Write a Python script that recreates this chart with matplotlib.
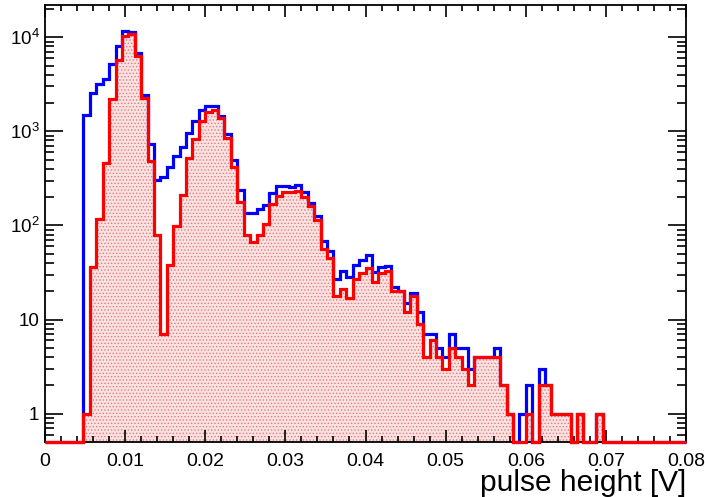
import numpy as np
import matplotlib
matplotlib.use("Agg")
import matplotlib.pyplot as plt
from matplotlib.ticker import FixedLocator, FixedFormatter, MultipleLocator, NullFormatter, LogLocator

plt.rcParams['font.family'] = ['Liberation Sans', 'DejaVu Sans']
plt.rcParams['mathtext.fontset'] = 'custom'
plt.rcParams['mathtext.rm'] = 'Liberation Sans'
plt.rcParams['hatch.linewidth'] = 0.6

# 100 bins from 0 to 0.08 V
bin_edges = np.linspace(0.0, 0.08, 101)

# counts per bin, blue histogram
blue_counts = [
    0, 0, 0, 0, 0, 0, 1490, 2540, 3160, 3570,
    5160, 8070, 11700, 11300, 6760, 2450, 730, 303, 325, 420,
    545, 680, 967, 1290, 1690, 1870, 1870, 1470, 936, 490,
    238, 137, 137, 149, 164, 219, 262, 262, 255, 272,
    228, 174, 126, 69, 53, 27, 33, 28, 38, 43,
    48, 32, 36, 37, 22, 20, 15, 19, 12, 7,
    7, 5, 4, 7, 5, 5, 3, 4, 4, 4,
    5, 2, 1, 0, 1, 2, 0, 3, 2, 1,
    1, 1, 0, 1, 0, 0, 1, 0, 0, 0,
    0, 0, 0, 0, 0, 0, 0, 0, 0, 0,
]

# counts per bin, red (filled) histogram
red_counts = [
    0, 0, 0, 0, 0, 0, 1, 36, 117, 457,
    2190, 5740, 10200, 10800, 6320, 2280, 483, 79, 7, 38,
    99, 210, 516, 828, 1290, 1590, 1690, 1370, 842, 420,
    176, 79, 67, 79, 103, 169, 205, 228, 225, 235,
    202, 160, 114, 56, 45, 18, 21, 17, 27, 31,
    35, 25, 31, 33, 20, 20, 12, 18, 9, 4,
    6, 4, 3, 5, 4, 3, 2, 4, 4, 4,
    4, 2, 1, 0, 0, 1, 0, 2, 2, 1,
    1, 1, 0, 1, 0, 0, 1, 0, 0, 0,
    0, 0, 0, 0, 0, 0, 0, 0, 0, 0,
]

y_ticks = [1, 10, 100, 1000, 10000]
y_tick_labels = ['1', '10', r'$\mathregular{10^{2}}$', r'$\mathregular{10^{3}}$', r'$\mathregular{10^{4}}$']
x_ticks = [0, 0.01, 0.02, 0.03, 0.04, 0.05, 0.06, 0.07, 0.08]
x_tick_labels = ['0', '0.01', '0.02', '0.03', '0.04', '0.05', '0.06', '0.07', '0.08']

ymin, ymax = 0.5, 22000

fig = plt.figure(figsize=(7.05, 4.97), dpi=100)
ax = fig.add_axes([45 / 705, 55 / 497, 641 / 705, 437 / 497])
ax.set_yscale('log')
ax.set_xlim(0, 0.08)
ax.set_ylim(ymin, ymax)

# empty bins sit on the bottom of the frame
blue_draw = np.where(np.array(blue_counts) > 0, blue_counts, ymin)
red_draw = np.where(np.array(red_counts) > 0, red_counts, ymin)

ax.stairs(red_draw, bin_edges, baseline=ymin, fill=True,
          facecolor='#fbe2e2', edgecolor='#e07c7c', hatch='.....',
          linewidth=0, zorder=1)
ax.stairs(blue_draw, bin_edges, baseline=None, color='#0000ff',
          linewidth=2.3, zorder=3, clip_on=False)
ax.stairs(red_draw, bin_edges, baseline=None, color='#ff0000',
          linewidth=2.3, zorder=4, clip_on=False)

ax.xaxis.set_major_locator(FixedLocator(x_ticks))
ax.xaxis.set_major_formatter(FixedFormatter(x_tick_labels))
ax.xaxis.set_minor_locator(MultipleLocator(0.002))
ax.yaxis.set_major_locator(FixedLocator(y_ticks))
ax.yaxis.set_major_formatter(FixedFormatter(y_tick_labels))
ax.yaxis.set_minor_locator(LogLocator(base=10, subs=np.arange(2, 10)))
ax.yaxis.set_minor_formatter(NullFormatter())

ax.tick_params(which='both', direction='in', top=True, right=True, width=1.2, colors='black')
ax.tick_params(axis='x', which='major', length=8.5, pad=8, labelsize=14)
ax.tick_params(axis='x', which='minor', length=4.5)
ax.tick_params(axis='y', which='major', length=13, pad=4, labelsize=13.5)
ax.tick_params(axis='y', which='minor', length=6.5)
for s in ax.spines.values():
    s.set_linewidth(1.3)

ax.set_xlabel('pulse height [V]', fontsize=21.5, loc='right')
ax.xaxis.set_label_coords(1.0, -0.113)
ax.xaxis.label.set_va('baseline')

fig.savefig('out.png', dpi=100)
